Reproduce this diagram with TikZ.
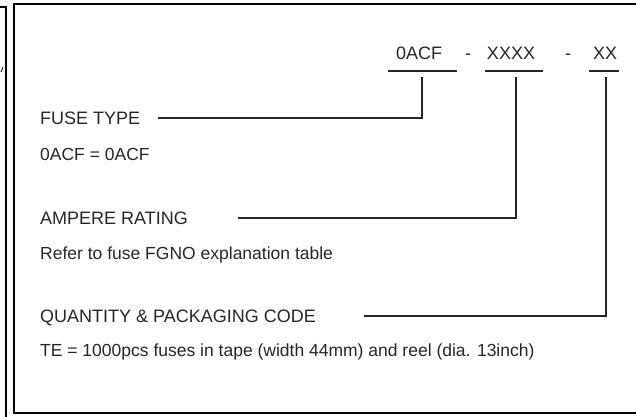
\documentclass[tikz,border=0pt]{standalone}
\usepackage{fontspec}
\setmainfont{Liberation Sans}
\begin{document}
\begin{tikzpicture}[x=1pt,y=-1pt]
  \tikzset{labeltext/.style={anchor=base west,inner sep=0pt,text=black!85,
             font=\fontsize{18}{20}\selectfont},
           desctext/.style={labeltext,font=\fontsize{17.5}{20}\selectfont},
           codetext/.style={anchor=base,inner sep=0pt,text=black!85,
             font=\fontsize{18}{20}\selectfont},
           lead/.style={line width=1.3pt,draw=black!85}}
  \useasboundingbox (0,0) rectangle (636,416);
  % frames
  \draw[line width=2pt] (0,7) -- (6,7) -- (6,418);
  \draw[line width=0.8pt] (1,72) -- (3,67);
  \draw[line width=2pt] (640,4) -- (14,4) -- (14,413) -- (640,413);
  % part number
  \node[codetext] (type) at (419,59) {0ACF};
  \node[codetext] (dashA) at (468,59) {-};
  \node[codetext] (rating) at (511,59) {XXXX};
  \node[codetext] (dashB) at (568,59) {-};
  \node[codetext] (pack) at (605,59) {XX};
  \coordinate (typeL) at (388,71);  \coordinate (typeR) at (457,71);
  \coordinate (ratingL) at (485,71); \coordinate (ratingR) at (543,71);
  \coordinate (packL) at (589,71);  \coordinate (packR) at (619,71);
  \draw[lead] (typeL) -- (typeR);
  \draw[lead] (ratingL) -- (ratingR);
  \draw[lead] (packL) -- (packR);
  % descriptions
  \node[labeltext] (fuse) at (40,124) {FUSE TYPE};
  \node[desctext] (fusedesc) at (40,160) {0ACF = 0ACF};
  \node[labeltext] (amp) at (40,224) {AMPERE RATING};
  \node[desctext] (ampdesc) at (40,259) {Refer to fuse FGNO explanation table};
  \node[labeltext] (qty) at (40,322) {QUANTITY \& PACKAGING CODE};
  \node[desctext] (qtydesc) at (40,356) {TE = 1000pcs fuses in tape (width 44mm) and reel (dia. 13inch)};
  % leaders
  \coordinate (typeDrop) at (422,77);
  \coordinate (ratingDrop) at (516,77);
  \coordinate (packDrop) at (606,77);
  \coordinate (fuseEnd) at (158,118);
  \coordinate (ampEnd) at (238,218);
  \coordinate (qtyEnd) at (364,316);
  \draw[lead] (typeDrop) |- (fuseEnd);
  \draw[lead] (ratingDrop) |- (ampEnd);
  \draw[lead] (packDrop) |- (qtyEnd);
\end{tikzpicture}
\end{document}
